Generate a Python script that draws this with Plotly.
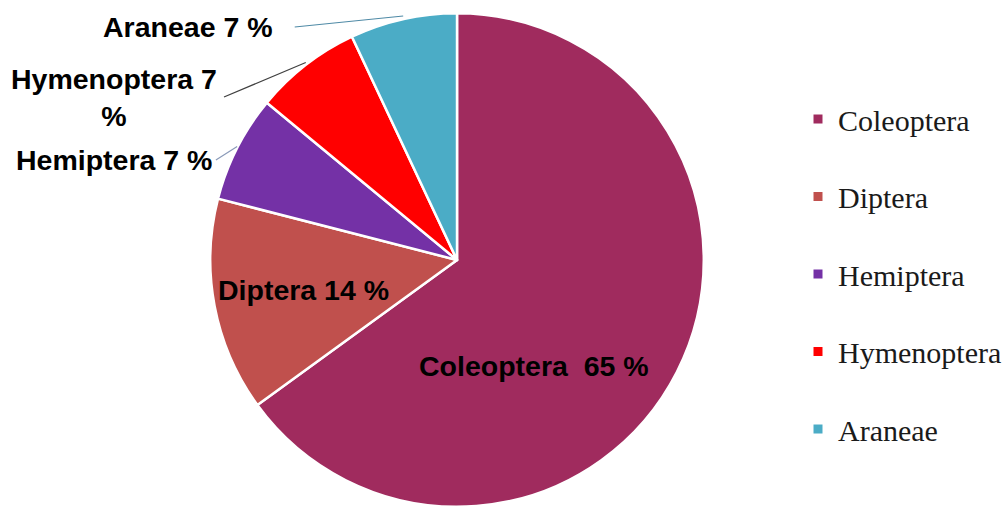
import math
import plotly.graph_objects as go

# ---- data ----
orders = ["Coleoptera", "Diptera", "Hemiptera", "Hymenoptera", "Araneae"]
percent = [65, 14, 7, 7, 7]
colors = ["#A02B5E", "#C0504D", "#7431A6", "#FF0000", "#4BACC6"]
label_texts = ["Coleoptera  65 %", "Diptera 14 %", "Hemiptera 7 %", "Hymenoptera 7<br>%", "Araneae 7 %"]

# ---- layout constants ----
W, H = 1007, 511
CX, CY, R = 463, 260, 250          # pie centre / radius in px
# inside label placement: (angle clockwise from top in deg, distance from centre in px)
inside_pos = {"Coleoptera": (143.7, 132), "Diptera": (259.2, 158)}
# outside label anchor (tail) positions in px, and padding
outside_tail = {"Hemiptera": (219, 160), "Hymenoptera": (228, 97), "Araneae": (300, 27)}
outside_pad = {"Hemiptera": 3, "Hymenoptera": 6, "Araneae": 21}
line_col = {"Hemiptera": "#8a9ab8", "Hymenoptera": "#404040", "Araneae": "#4f8aa6"}

LABEL_FONT = dict(family="Liberation Sans, Arial", size=28.5, color="black", weight="bold")

fig = go.Figure()
fig.add_trace(go.Pie(
    labels=orders, values=percent, sort=False, direction="clockwise", rotation=0,
    marker=dict(colors=colors, line=dict(color="white", width=2.5)),
    textinfo="none",
    showlegend=False, hoverinfo="label+percent",
    domain=dict(x=[(CX - R) / W, (CX + R) / W], y=[1 - (CY + R) / H, 1 - (CY - R) / H]),
))

# legend entries (dummy traces so item spacing can match)
for name, col in zip(orders, colors):
    fig.add_trace(go.Scatter(
        x=[None], y=[None], mode="markers", name=name, legendgroup=name,
        marker=dict(symbol="square", size=9, color=col),
    ))

# labels: outside ones with leader lines pointing at slice mid-angles
cum = 0
total = sum(percent)
for name, val, txt in zip(orders, percent, label_texts):
    mid = (cum + val / 2) / total * 360
    cum += val
    if name in inside_pos:
        ang, dist = inside_pos[name]
        px = CX + dist * math.sin(math.radians(ang))
        py = CY - dist * math.cos(math.radians(ang))
        fig.add_annotation(x=px / W, y=1 - py / H, xref="paper", yref="paper",
                           text=txt, showarrow=False, font=LABEL_FONT,
                           xanchor="center", yanchor="middle")
        continue
    hx = CX + R * math.sin(math.radians(mid))
    hy = CY - R * math.cos(math.radians(mid))
    tx, ty = outside_tail[name]
    fig.add_annotation(
        x=hx / W, y=1 - hy / H, xref="paper", yref="paper",
        ax=tx - hx, ay=ty - hy, text=txt, showarrow=True, arrowhead=0,
        arrowwidth=1.2, arrowcolor=line_col[name], xanchor="right",
        borderpad=outside_pad[name], align="center", font=LABEL_FONT,
    )

fig.update_layout(
    width=W, height=H, margin=dict(l=0, r=0, t=0, b=0),
    paper_bgcolor="white", plot_bgcolor="white",
    xaxis=dict(visible=False), yaxis=dict(visible=False),
    legend=dict(x=0.803, y=0.818, xanchor="left", yanchor="top", tracegroupgap=35.5,
                font=dict(family="Liberation Serif, Times New Roman", size=30, color="#1a1a1a"),
                itemwidth=30, bgcolor="rgba(0,0,0,0)"),
)

fig.write_html("out.html")
